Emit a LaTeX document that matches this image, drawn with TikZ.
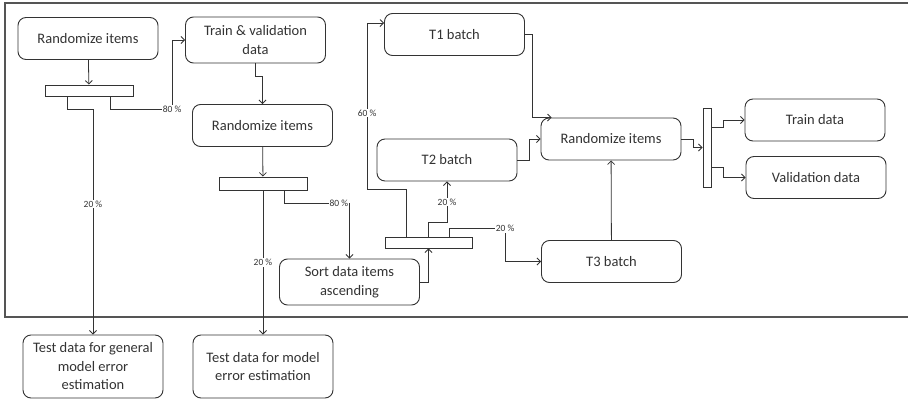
\documentclass[tikz,border=0pt]{standalone}
\usepackage{fontspec}
\setmainfont{Carlito}
\usetikzlibrary{arrows.meta}
\definecolor{ink}{HTML}{333333}
\definecolor{frame}{HTML}{555555}

\begin{document}
\begin{tikzpicture}
  [x=1pt,y=-1pt,>={Straight Barb[length=3.5pt,width=7pt]},
   box/.style={draw=ink,line width=.9pt,rounded corners=8pt,minimum width=140pt,
     minimum height=42pt,inner sep=2pt,align=center,text=ink,
     font=\fontsize{14.5}{18.5}\selectfont},
   bar/.style={draw=ink,line width=.9pt,fill=white,inner sep=0pt},
   conn/.style={->,draw=ink,line width=.8pt},
   lbl/.style={fill=white,inner sep=1pt,text=ink,font=\fontsize{9.5}{10}\selectfont}]
  \useasboundingbox (0,0) rectangle (908,401);
  \draw[frame,line width=1.1pt] (908,3) -| (5,317) -- (908,317);

  \node[box]                    (rnd1)  at (88,38.5)    {Randomize items};
  \node[box,minimum height=46pt] (tvd)  at (255.5,40)   {Train \& validation\\data};
  \node[box]                    (rnd2)  at (262.5,125.5) {Randomize items};
  \node[box,minimum height=46pt] (sort) at (349.5,282)  {Sort data items\\ascending};
  \node[box,minimum height=63pt] (test1) at (93,366.5)  {Test data for general\\model error\\estimation};
  \node[box,minimum height=63pt] (test2) at (263,366.5) {Test data for model\\error estimation};
  \node[box]                    (t1)    at (454.5,34.5) {T1 batch};
  \node[box]                    (t2)    at (447,160)    {T2 batch};
  \node[box]                    (t3)    at (611.5,261.5) {T3 batch};
  \node[box]                    (rnd3)  at (611,139)    {Randomize items};
  \node[box]                    (train) at (815,120)    {Train data};
  \node[box]                    (valid) at (816,177.5)  {Validation data};

  \node[bar,minimum width=88pt,minimum height=11pt] (split1) at (89,90.5)    {};
  \node[bar,minimum width=88pt,minimum height=13pt] (split2) at (263,183.5)  {};
  \node[bar,minimum width=87pt,minimum height=11pt] (split3) at (428.5,242.5) {};
  \node[bar,minimum width=8pt,minimum height=79pt]  (split4) at (707,147.5)  {};

  \foreach \from/\to in {rnd1/split1,rnd2/split2,t3/rnd3}
    \draw[conn] (\from) -- (\to);

  \draw[conn] ([xshift=23pt]split1.south west) -- ++(0,13) -| (test1.north)
    node[lbl,pos=.71] (p1) {20 \%};
  \draw[conn] ([xshift=66pt]split1.south west) -- ++(0,13) -| ([xshift=-13pt]tvd.west)
    node[lbl,pos=.5] (p2) {80 \%} -- (tvd.west);
  \draw[conn] (tvd.south) -- ++(0,13) -| (rnd2.north);
  \draw[conn] (split2.south) -- (test2.north) node[lbl,pos=.5] (p3) {20 \%};
  \draw[conn] ([xshift=66pt]split2.south west) -- ++(0,13) -| (sort.north)
    node[lbl,pos=.5,anchor=east] (p4) {80 \%};
  \draw[conn] (sort.east) -| (split3.south);
  \draw[conn] ([xshift=22pt]split3.north west) -- ++(0,-47)
    -| ([xshift=-17pt,yshift=-10pt]t1.north west) node[lbl,pos=.73] (p5) {60 \%}
    -- ([yshift=-10pt]t1.north west);
  \draw[conn] (split3.north) -- ++(0,-14) -| (t2.south) node[lbl,pos=.75] (p6) {20 \%};
  \draw[conn] ([xshift=65pt]split3.north west) -- ++(0,-8) -| ([xshift=-36pt]t3.west)
    node[lbl,pos=.5] (p7) {20 \%} -- (t3.west);
  \draw[conn] (t1.east) -- ++(7,0) |- ([xshift=11pt]rnd3.north west);
  \draw[conn] (t2.east) -- ++(12,0) |- (rnd3.west);
  \draw[conn] (rnd3.east) -- ++(12,0) |- (split4.west);
  \draw[conn] ([yshift=-20pt]split4.north east) -- ++(12,0) |- (train.west);
  \draw[conn] ([yshift=20pt]split4.south east) -- ++(12,0) |- (valid.west);

\end{tikzpicture}
\end{document}
